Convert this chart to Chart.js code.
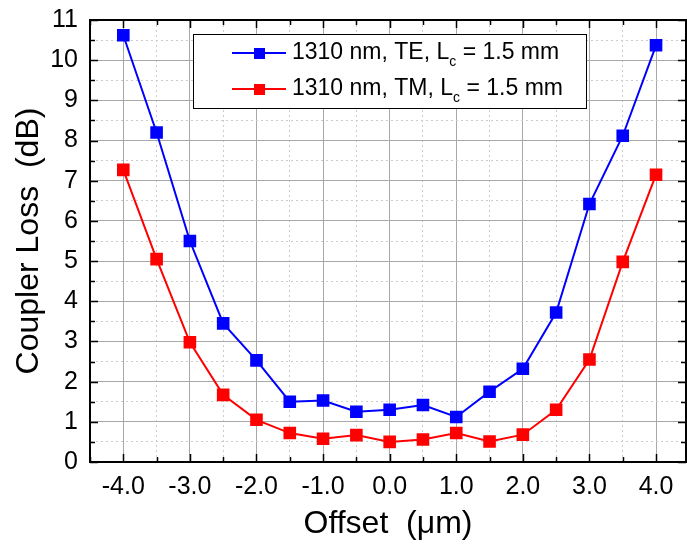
<!DOCTYPE html>
<html>
<head>
<meta charset="utf-8">
<script src="https://cdn.jsdelivr.net/npm/chart.js@4.4.1/dist/chart.umd.min.js"></script>
<style>
  html, body { margin: 0; padding: 0; background: #fff; }
  #wrap { width: 687px; height: 547px; }
</style>
</head>
<body>
<div id="wrap"><canvas id="myChart" width="687" height="547"></canvas></div>
<script>
const offsets = [-4.0, -3.5, -3.0, -2.5, -2.0, -1.5, -1.0, -0.5, 0.0, 0.5, 1.0, 1.5, 2.0, 2.5, 3.0, 3.5, 4.0];
const teLoss = [10.62, 8.2, 5.5, 3.45, 2.53, 1.5, 1.53, 1.25, 1.3, 1.42, 1.12, 1.75, 2.32, 3.72, 6.42, 8.12, 10.37];
const tmLoss = [7.27, 5.05, 2.98, 1.67, 1.05, 0.72, 0.58, 0.67, 0.5, 0.56, 0.72, 0.51, 0.68, 1.3, 2.55, 4.98, 7.15];
const seriesNames = ['1310 nm, TE, L|c| = 1.5 mm', '1310 nm, TM, L|c| = 1.5 mm'];
const seriesColors = ['#0000ff', '#ff0000'];
const xMajorTicks = [-4, -3, -2, -1, 0, 1, 2, 3, 4];
const yMajorTicks = [0, 1, 2, 3, 4, 5, 6, 7, 8, 9, 10, 11];

const FONT = '"Liberation Sans", Arial, sans-serif';

function isMajor(v) {
    return Math.abs(v - Math.round(v)) < 1e-6;
}
// major ticks plus the half-way minor ones that fall inside the axis
function tickSetter(majors) {
    return scale => {
        const vals = [];
        majors.forEach(m => { vals.push(m - 0.5, m); });
        vals.push(majors[majors.length - 1] + 0.5);
        scale.ticks = vals.filter(v => v >= scale.min - 1e-6 && v <= scale.max + 1e-6).map(v => ({ value: v }));
    };
}

// frame, inward ticks and legend
const framePlugin = {
    id: 'frame',
    afterDraw(chart) {
        const ctx = chart.ctx;
        const a = chart.chartArea;
        const xs = chart.scales.x, ys = chart.scales.y;
        ctx.save();
        ctx.strokeStyle = '#000';
        ctx.lineWidth = 1.5;
        ctx.beginPath();
        xs.ticks.forEach(t => {
            const px = Math.round(xs.getPixelForValue(t.value)) + 0.5;
            const len = isMajor(t.value) ? 8 : 5;
            ctx.moveTo(px, a.bottom); ctx.lineTo(px, a.bottom - len);
            ctx.moveTo(px, a.top); ctx.lineTo(px, a.top + len);
        });
        ys.ticks.forEach(t => {
            const py = Math.round(ys.getPixelForValue(t.value)) + 0.5;
            const len = isMajor(t.value) ? 8 : 5;
            ctx.moveTo(a.left, py); ctx.lineTo(a.left + len, py);
            ctx.moveTo(a.right, py); ctx.lineTo(a.right - len, py);
        });
        ctx.stroke();
        ctx.lineWidth = 2;
        ctx.strokeRect(a.left, a.top, a.right - a.left, a.bottom - a.top);

        // legend
        const bx = a.left + 103, by = a.top + 14, bw = 393, bh = 74;
        ctx.fillStyle = '#fff';
        ctx.fillRect(bx, by, bw, bh);
        ctx.lineWidth = 1;
        ctx.strokeStyle = '#000';
        ctx.strokeRect(bx + 0.5, by + 0.5, bw, bh);
        seriesNames.forEach((name, i) => {
            const cy = by + 19 + i * 36;
            ctx.strokeStyle = seriesColors[i];
            ctx.fillStyle = seriesColors[i];
            ctx.lineWidth = 2;
            ctx.beginPath();
            ctx.moveTo(bx + 39, cy); ctx.lineTo(bx + 93, cy);
            ctx.stroke();
            ctx.fillRect(bx + 61, cy - 5, 11, 11);
            const parts = name.split('|');
            ctx.fillStyle = '#000';
            ctx.textBaseline = 'middle';
            let tx = bx + 99;
            ctx.font = '23px ' + FONT;
            ctx.fillText(parts[0], tx, cy);
            tx += ctx.measureText(parts[0]).width;
            ctx.font = '14px ' + FONT;
            ctx.fillText(parts[1], tx, cy + 9);
            tx += ctx.measureText(parts[1]).width;
            ctx.font = '23px ' + FONT;
            ctx.fillText(parts[2], tx, cy);
        });
        ctx.restore();
    }
};

const ctx = document.getElementById('myChart').getContext('2d');

new Chart(ctx, {
    type: 'line',
    data: {
        datasets: [teLoss, tmLoss].map((vals, i) => ({
            label: seriesNames[i].replace(/\|/g, ''),
            data: offsets.map((x, j) => ({ x: x, y: vals[j] })),
            borderColor: seriesColors[i],
            backgroundColor: seriesColors[i],
            borderWidth: 2,
            pointStyle: 'rect',
            pointRadius: 7.5,
            pointHoverRadius: 7.5,
            fill: false,
            tension: 0
        }))
    },
    options: {
        responsive: false,
        animation: false,
        layout: { autoPadding: false, padding: { top: 20, right: 1, left: 0, bottom: 0 } },
        plugins: {
            legend: { display: false },
            tooltip: { enabled: false }
        },
        scales: {
            x: {
                type: 'linear',
                min: -4.5,
                max: 4.45,
                afterFit: s => { s.height = 85; s.paddingLeft = 0; s.paddingRight = 0; },
                afterBuildTicks: tickSetter(xMajorTicks),
                ticks: {
                    autoSkip: false,
                    maxRotation: 0,
                    padding: 10,
                    color: '#000',
                    font: { family: FONT, size: 25 },
                    callback: v => isMajor(v) ? v.toFixed(1) : ''
                },
                grid: {
                    drawTicks: false,
                    lineWidth: 1,
                    color: c => isMajor(c.tick.value) ? '#a8a8a8' : '#cccccc'
                },
                border: {
                    color: '#000',
                    width: 2,
                    dash: c => (c.tick && !isMajor(c.tick.value)) ? [2, 3] : []
                },
                title: {
                    display: true,
                    text: 'Offset  (\u03bcm)',
                    color: '#000',
                    font: { family: FONT, size: 32 },
                    padding: { top: 0, bottom: 4 }
                }
            },
            y: {
                min: 0,
                max: 11,
                afterFit: s => { s.width = 90; s.paddingTop = 0; s.paddingBottom = 0; },
                afterBuildTicks: tickSetter(yMajorTicks),
                ticks: {
                    autoSkip: false,
                    padding: 12,
                    color: '#000',
                    font: { family: FONT, size: 25 },
                    callback: v => isMajor(v) ? String(Math.round(v)) : ''
                },
                grid: {
                    drawTicks: false,
                    lineWidth: 1,
                    color: c => isMajor(c.tick.value) ? '#a8a8a8' : '#cccccc'
                },
                border: {
                    color: '#000',
                    width: 2,
                    dash: c => (c.tick && !isMajor(c.tick.value)) ? [2, 3] : []
                },
                title: {
                    display: true,
                    text: 'Coupler Loss  (dB)',
                    color: '#000',
                    font: { family: FONT, size: 32 },
                    padding: { top: 10, bottom: 0 }
                }
            }
        }
    },
    plugins: [framePlugin]
});
</script>
</body>
</html>
